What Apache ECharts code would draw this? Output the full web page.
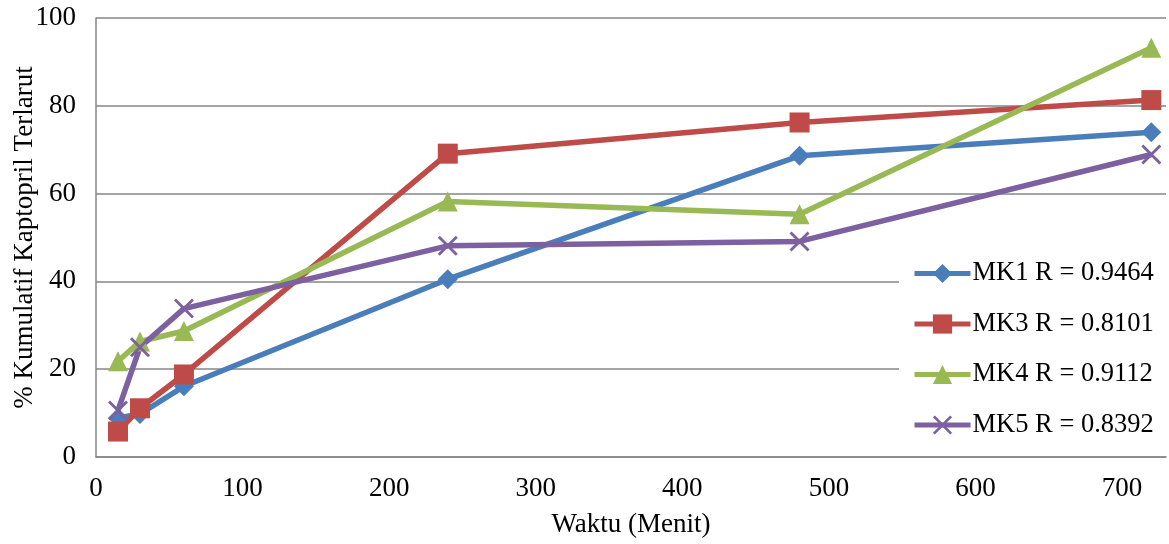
<!DOCTYPE html>
<html>
<head>
<meta charset="utf-8">
<script src="https://cdn.jsdelivr.net/npm/echarts@6/dist/echarts.min.js"></script>
<style>
  html, body { margin: 0; padding: 0; background: #fff; }
  #chart { width: 1169px; height: 544px; }
</style>
</head>
<body>
<div id="chart"></div>
<script>
// Sampling times (minutes)
const waktu = [15, 30, 60, 240, 480, 720];

// Cumulative % captopril dissolved per formula
const mk1 = [8.9, 9.8, 16.1, 40.5, 68.6, 74.0];
const mk3 = [5.8, 11.1, 18.8, 69.1, 76.2, 81.3];
const mk4 = [21.8, 26.3, 28.7, 58.2, 55.3, 93.2];
const mk5 = [10.6, 25.0, 33.8, 48.1, 49.1, 68.9];

const seriesNames = ['MK1 R = 0.9464', 'MK3 R = 0.8101', 'MK4 R = 0.9112', 'MK5 R = 0.8392'];
const seriesColors = ['#4A7EBB', '#BE4B48', '#98B954', '#7D60A0'];

const FONT = '"Liberation Serif", "Times New Roman", serif';
const FONT_SIZE = 27;
const GRID_GREY = '#868686';

// thin "x" marker built from two crossing bars
const crossSymbol = 'path://M0,1L1,0L10,9L9,10Z M9,0L10,1L1,10L0,9Z';

function pairs(ys) {
  return waktu.map((x, i) => [x, ys[i]]);
}

function lineSeries(name, ys, color, symbol, size) {
  return {
    name: name,
    type: 'line',
    data: pairs(ys),
    symbol: symbol,
    symbolSize: size,
    showAllSymbol: true,
    itemStyle: { color: color },
    lineStyle: { color: color, width: 5.5 },
    emphasis: { disabled: true },
    animation: false
  };
}

const chart = echarts.init(document.getElementById('chart'), null, { renderer: 'canvas' });

chart.setOption({
  backgroundColor: '#ffffff',
  textStyle: { fontFamily: FONT, color: '#000' },
  grid: {
    left: 96, top: 18, right: 3, bottom: 87,
    containLabel: false,
    outerBoundsMode: 'none'
  },
  xAxis: {
    type: 'value',
    min: 0,
    max: 730,
    interval: 100,
    name: 'Waktu (Menit)',
    nameLocation: 'middle',
    nameGap: 54,
    nameMoveOverlap: false,
    nameTextStyle: { fontFamily: FONT, fontSize: FONT_SIZE, color: '#000' },
    axisLine: { show: true, lineStyle: { color: GRID_GREY, width: 1.5 } },
    axisTick: { show: false },
    splitLine: { show: false },
    axisLabel: {
      fontFamily: FONT, fontSize: FONT_SIZE, color: '#000', margin: 18,
      showMaxLabel: false
    }
  },
  yAxis: {
    type: 'value',
    min: 0,
    max: 100,
    interval: 20,
    name: '% Kumulatif Kaptopril Terlarut',
    nameLocation: 'middle',
    nameGap: 58,
    nameMoveOverlap: false,
    nameTextStyle: { fontFamily: FONT, fontSize: FONT_SIZE, color: '#000' },
    axisLine: { show: true, lineStyle: { color: GRID_GREY, width: 1.5 } },
    axisTick: { show: false },
    splitLine: { show: true, lineStyle: { color: GRID_GREY, width: 1.5 } },
    axisLabel: { fontFamily: FONT, fontSize: FONT_SIZE, color: '#000', margin: 20 }
  },
  legend: {
    orient: 'vertical',
    left: 899,
    top: 250,
    padding: [10, 20, 11, 13],
    backgroundColor: '#ffffff',
    itemWidth: 56,
    itemHeight: 24,
    itemGap: 23.5,
    selectedMode: false,
    lineStyle: { width: 5 },
    textStyle: { fontFamily: FONT, fontSize: 26.5, color: '#000', padding: [0, 0, 0, -3] },
    data: seriesNames
  },
  series: [
    lineSeries(seriesNames[0], mk1, seriesColors[0], 'diamond', 20),
    lineSeries(seriesNames[1], mk3, seriesColors[1], 'rect', 20),
    lineSeries(seriesNames[2], mk4, seriesColors[2], 'triangle', 20),
    lineSeries(seriesNames[3], mk5, seriesColors[3], crossSymbol, 20)
  ]
});
</script>
</body>
</html>
